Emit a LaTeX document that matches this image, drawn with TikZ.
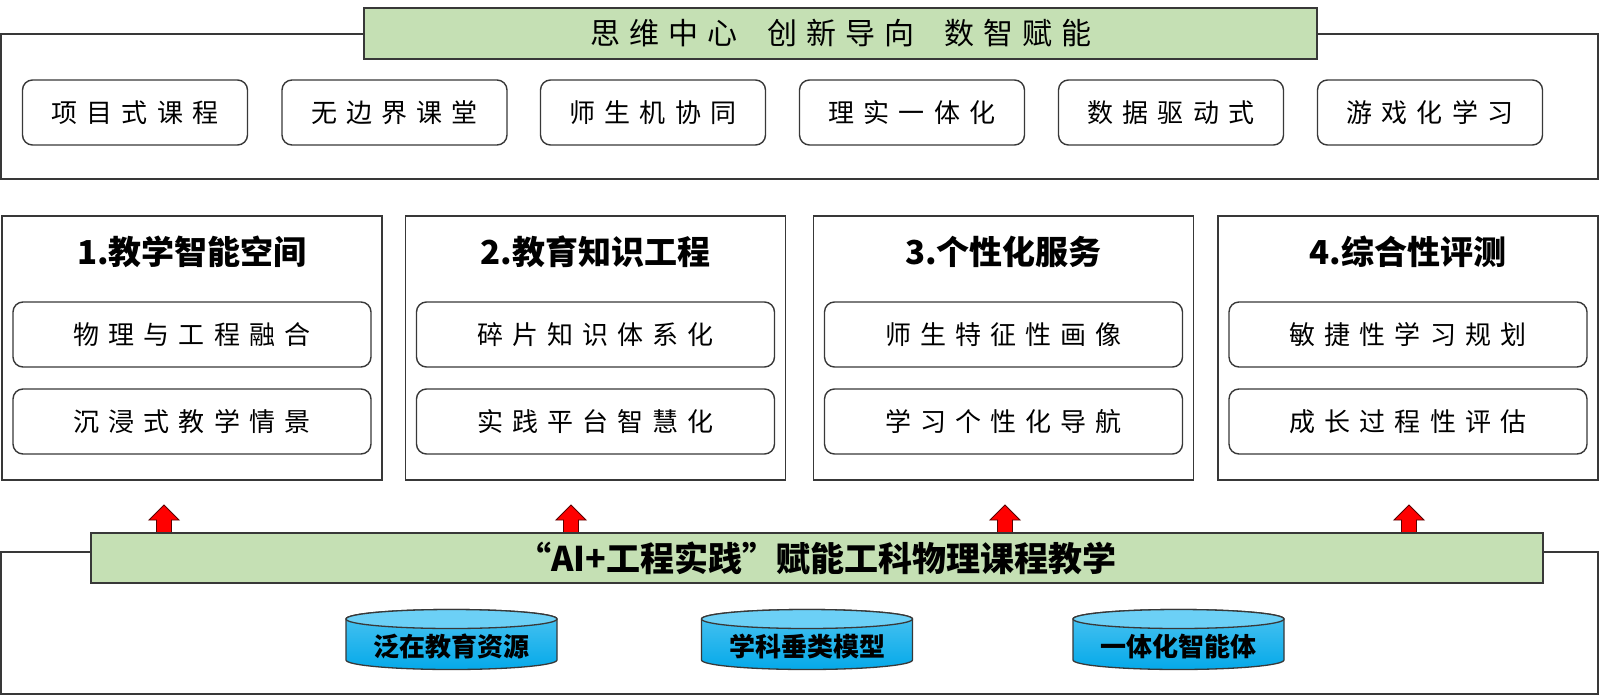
\documentclass[tikz,border=0pt]{standalone}
\usepackage{fontspec}
\setmainfont{Noto Sans CJK SC}
\newfontfamily\kai[LetterSpace=35]{Noto Sans CJK SC}
\newfontfamily\kait[LetterSpace=30]{Noto Sans CJK SC}
\newfontfamily\hei{Noto Sans CJK SC}
\usetikzlibrary{calc}
\definecolor{lgreen}{HTML}{C5E0B4}
\definecolor{linec}{HTML}{383838}
\definecolor{cylT}{HTML}{6CD0F6}
\definecolor{cylA}{HTML}{4EC4F1}
\definecolor{cylB}{HTML}{05A9E9}
\definecolor{arrline}{HTML}{5A0000}
\newcommand\mycyl[3]{%
  \shade[top color=cylA, bottom color=cylB, draw=linec, line width=1.3pt]
    (#1-105.5,619) -- (#1-105.5,660)
    arc[start angle=180, end angle=360, x radius=105.5pt, y radius=9.5pt]
    -- (#1+105.5,619)
    arc[start angle=0, end angle=180, x radius=105.5pt, y radius=9.5pt] -- cycle;
  \draw[fill=cylT, draw=linec, line width=1.3pt] (#1,619) ellipse [x radius=105.5pt, y radius=9.5pt];
  \node[cyltext] (#2) at (#1,646) {#3};
}
\newcommand\uparr[2]{%
  \coordinate (#2) at (#1,505);
  \filldraw[fill=red, draw=arrline, line width=0.9pt]
    ($(#2)+(-7.5,28)$) -- ($(#2)+(-7.5,15)$) -- ($(#2)+(-15,15)$) -- (#2)
    -- ($(#2)+(15,15)$) -- ($(#2)+(7.5,15)$) -- ($(#2)+(7.5,28)$) -- cycle;
}
\begin{document}
\begin{tikzpicture}[x=1pt,y=-1pt,
  outer/.style={draw=linec, line width=1.6pt},
  band/.style={draw=linec, line width=1.6pt, fill=lgreen, inner sep=0pt},
  item/.style={draw=linec, line width=1.4pt, rounded corners=10pt, fill=white,
    minimum height=65pt, inner sep=0pt, font=\fontsize{26}{30}\selectfont\kai},
  topitem/.style={item, minimum width=225pt},
  subitem/.style={item, minimum width=358pt},
  panel/.style={draw=linec, line width=1.6pt, minimum width=380pt, minimum height=264pt, inner sep=0pt},
  ptitle/.style={font=\fontsize{33}{38}\selectfont\hei\bfseries, inner sep=0pt},
  cyltext/.style={font=\fontsize{26}{30}\selectfont\hei\bfseries, inner sep=0pt},
]
\useasboundingbox (0,0) rectangle (1600,696);
\fill[white] (0,0) rectangle (1600,696);

% top frame
\draw[outer] (1,34) rectangle (1598,179);
\node[band, minimum width=953pt, minimum height=51pt,
  font=\fontsize{30}{34}\selectfont\kait] (title) at (840.5,33.5)
  {思维中心\hspace{30pt}创新导向\hspace{30pt}数智赋能};

\node[topitem] (t1) at (135,112.5) {项目式课程};
\node[topitem] (t2) at (394.5,112.5) {无边界课堂};
\node[topitem] (t3) at (653,112.5) {师生机协同};
\node[topitem] (t4) at (912,112.5) {理实一体化};
\node[topitem] (t5) at (1171,112.5) {数据驱动式};
\node[topitem] (t6) at (1430,112.5) {游戏化学习};

% panels
\node[panel] (p1) at (192,348) {};
\node[panel] (p2) at (595.5,348) {};
\node[panel] (p3) at (1003.5,348) {};
\node[panel] (p4) at (1408,348) {};

\node[ptitle] (h1) at (192,252) {1.教学智能空间};
\node[ptitle] (h2) at (595.5,252) {2.教育知识工程};
\node[ptitle] (h3) at (1003.5,252) {3.个性化服务};
\node[ptitle] (h4) at (1408,252) {4.综合性评测};

\node[subitem] (a1) at (192,334.5) {物理与工程融合};
\node[subitem] (b1) at (192,421.5) {沉浸式教学情景};
\node[subitem] (a2) at (595.5,334.5) {碎片知识体系化};
\node[subitem] (b2) at (595.5,421.5) {实践平台智慧化};
\node[subitem] (a3) at (1003.5,334.5) {师生特征性画像};
\node[subitem] (b3) at (1003.5,421.5) {学习个性化导航};
\node[subitem] (a4) at (1408,334.5) {敏捷性学习规划};
\node[subitem] (b4) at (1408,421.5) {成长过程性评估};

% arrows
\uparr{164}{u1}
\uparr{571}{u2}
\uparr{1005}{u3}
\uparr{1409}{u4}

% bottom frame
\draw[outer] (1,552) rectangle (1598,694);
\node[band, minimum width=1452pt, minimum height=50pt,
  font=\fontsize{34}{38}\selectfont\hei\bfseries] (base) at (817,558)
  {“AI+工程实践”赋能工科物理课程教学};

\mycyl{451.5}{c1}{泛在教育资源}
\mycyl{807}{c2}{学科垂类模型}
\mycyl{1178.5}{c3}{一体化智能体}
\end{tikzpicture}
\end{document}
